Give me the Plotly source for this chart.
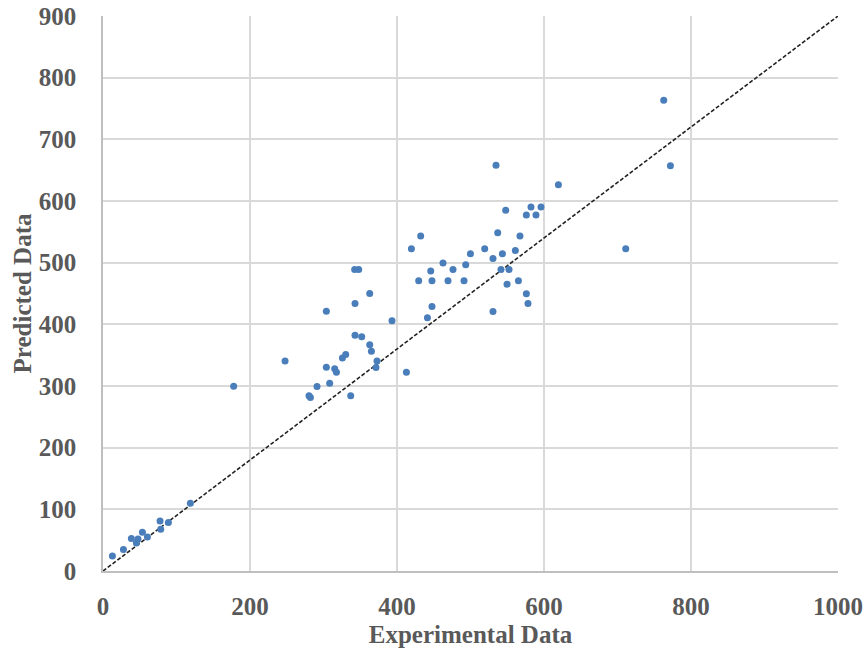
import plotly.graph_objects as go

experimental = [
    12.8, 27.8, 38.6, 47.6, 45.4, 53.6, 60.4, 77.6, 78.5, 89.0, 118.9,
    177.8, 247.7, 280.3, 282.2, 291.2, 308.4, 303.9, 315.2, 317.6, 325.7, 330.2,
    337.0, 303.9, 342.9, 342.4, 347.9, 362.9, 342.9, 352.0, 362.9, 365.2,
    372.8, 371.4, 393.2, 412.8, 429.5,
    534.7, 619.6, 711.2, 419.6, 432.2, 547.9, 582.3, 595.9, 576.0, 589.1,
    537.0, 567.3, 519.3, 561.0, 499.9, 543.4, 530.6, 462.6, 493.5, 476.2,
    445.9, 541.5, 552.4, 447.6, 469.4, 491.2, 565.2, 549.7, 576.0, 578.2,
    447.6, 441.4, 530.6, 762.9, 772.0,
]
predicted = [
    24.3, 34.7, 52.6, 51.9, 45.4, 62.8, 55.2, 81.1, 67.7, 78.5, 109.8,
    299.7, 340.7, 284.0, 281.4, 299.2, 304.6, 330.5, 327.8, 322.4, 345.6, 351.1,
    284.0, 421.4, 433.9, 489.0, 489.0, 450.0, 382.4, 379.7, 366.7, 356.5,
    340.7, 330.0, 405.7, 322.4, 470.6,
    657.8, 626.3, 522.5, 522.5, 543.1, 584.8, 590.2, 590.2, 577.2, 577.2,
    548.4, 543.1, 522.5, 519.9, 514.4, 514.4, 506.9, 499.3, 496.5, 489.0,
    486.3, 489.0, 489.0, 470.6, 470.6, 470.6, 470.6, 465.2, 449.5, 433.9,
    429.0, 410.5, 420.9, 763.3, 657.2,
]
ref_x = [0, 1000]
ref_y = [0, 900]

x_ticks = [0, 200, 400, 600, 800, 1000]
y_ticks = [0, 100, 200, 300, 400, 500, 600, 700, 800, 900]

font_family = "Liberation Serif, Times New Roman, serif"
text_color = "#595959"

fig = go.Figure()
fig.add_trace(go.Scatter(
    x=ref_x, y=ref_y, mode="lines",
    line=dict(color="#222222", width=1.6, dash="4px,2px"),
    showlegend=False, hoverinfo="skip",
))
fig.add_trace(go.Scatter(
    x=experimental, y=predicted, mode="markers",
    marker=dict(color="#4a7ebb", size=7),
    showlegend=False,
))

fig.update_layout(
    width=865, height=652,
    margin=dict(l=103, r=27, t=16, b=81),
    paper_bgcolor="white", plot_bgcolor="white",
    font=dict(family=font_family, color=text_color),
    xaxis=dict(
        range=[0, 1000], tickvals=x_ticks, ticktext=[str(v) for v in x_ticks],
        showgrid=True, gridcolor="#d9d9d9", gridwidth=1.6,
        showline=True, linecolor="#bfbfbf", linewidth=1.6,
        zeroline=False, ticks="", automargin=False, ticklabelstandoff=12,
        tickfont=dict(family=font_family, size=25, color=text_color, weight="bold"),
        title=dict(text="<b>Experimental Data</b>", standoff=7,
                   font=dict(family=font_family, size=25, color=text_color)),
    ),
    yaxis=dict(
        range=[0, 900], tickvals=y_ticks, ticktext=[str(v) for v in y_ticks],
        showgrid=True, gridcolor="#d9d9d9", gridwidth=1.6,
        showline=True, linecolor="#bfbfbf", linewidth=1.6,
        zeroline=False, ticks="", automargin=False, ticklabelstandoff=20,
        tickfont=dict(family=font_family, size=25, color=text_color, weight="bold"),
        title=dict(text="<b>Predicted Data</b>", standoff=0,
                   font=dict(family=font_family, size=25, color=text_color)),
    ),
)

fig.write_html("out.html")
